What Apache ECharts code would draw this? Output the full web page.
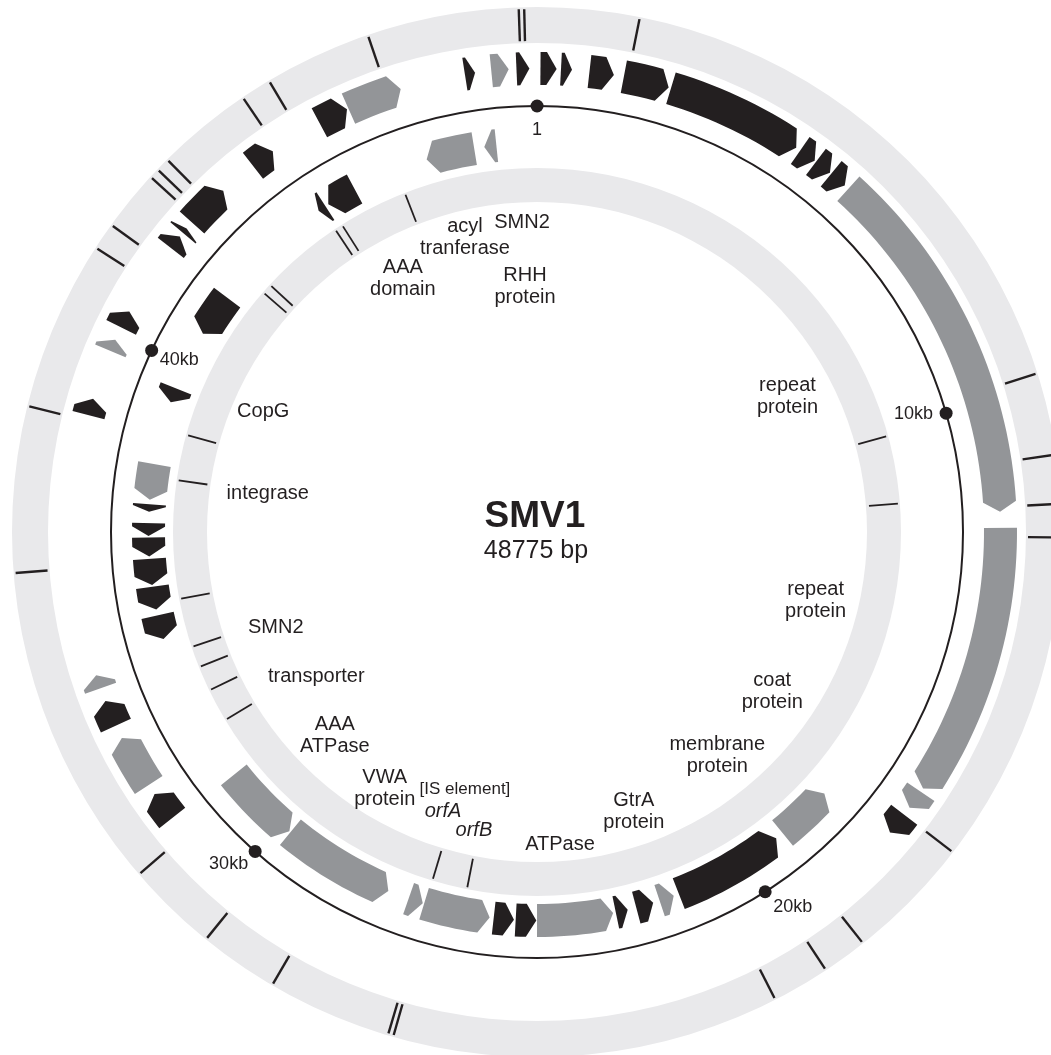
<!DOCTYPE html>
<html><head><meta charset="utf-8">
<script src="https://cdn.jsdelivr.net/npm/echarts@6/dist/echarts.min.js"></script>
<style>html,body{margin:0;padding:0;background:#fff}#main{width:1051px;height:1055px}</style>
</head><body><div id="main"></div>
<script>
// ---------------- data ----------------
const GENOME_LENGTH = 48775;
const genomeName = 'SMV1';
const genomeSizeLabel = '48775 bp';

// ORFs on the forward strand (outer track): [start bp, end bp, class]
const forwardGenes = [
  [58, 329, 'dark'], [402, 587, 'dark'], [881, 1294, 'dark'], [1463, 2236, 'dark'],
  [2276, 4607, 'dark'], [4688, 4986, 'dark'], [5013, 5311, 'dark'], [5338, 5636, 'dark'],
  [5718, 11855, 'gray'], [12126, 16746, 'gray'], [16814, 17139, 'gray'], [17288, 17667, 'dark'],
  [31419, 31920, 'dark'], [32097, 33004, 'gray'], [33235, 33682, 'dark'], [33912, 34142, 'gray'],
  [38559, 38844, 'dark'], [39697, 39901, 'gray'], [40131, 40430, 'dark'], [41703, 41946, 'dark'],
  [42028, 42122, 'dark'], [42258, 43003, 'dark'], [43654, 44067, 'dark'], [44981, 45496, 'dark'],
  [45523, 46458, 'gray'], [47562, 47735, 'dark'], [48008, 48301, 'gray'], [48431, 48648, 'dark']
];

// ORFs on the reverse strand (inner track): [start bp, end bp, class]
const reverseGenes = [
  [17925, 19076, 'gray'], [19239, 21488, 'dark'], [21596, 21895, 'gray'], [22030, 22382, 'dark'],
  [22558, 22802, 'dark'], [22857, 24387, 'gray'], [24401, 24814, 'dark'], [24848, 25255, 'dark'],
  [25336, 26677, 'gray'], [26704, 27002, 'gray'], [27436, 29726, 'gray'], [29753, 31338, 'gray'],
  [34413, 34902, 'dark'], [35023, 35484, 'dark'], [35518, 36046, 'dark'], [36093, 36473, 'dark'],
  [36500, 36757, 'dark'], [36988, 37137, 'dark'], [37225, 37943, 'gray'], [39223, 39521, 'dark'],
  [40741, 41608, 'dark'], [44141, 44304, 'dark'], [44372, 44981, 'dark'], [46539, 47515, 'gray'],
  [47718, 47962, 'gray']
];

// tick marks in the outer and inner grey rings (bp)
const outerTicks = [1531, 9809, 11042, 11774, 12275, 17288, 19185, 19862, 20729, 26542, 26623,
  28493, 29685, 31067, 35972, 38464, 41025, 41432, 42352, 42501, 42705, 44155, 44615, 46228, 48504, 48585];
const innerTicks = [10121, 11584, 25891, 26650, 32368, 33086, 33628, 34088, 35145, 37692, 38681,
  42163, 42380, 44208, 44384, 45889];

// scale marks on the backbone
const scaleMarks = [1, 10000, 20000, 30000, 40000];
const scaleLabels = ['1', '10kb', '20kb', '30kb', '40kb'];

// functional annotations (text, position bp)
const annotationTexts = ['acyl\ntranferase', 'SMN2', 'AAA\ndomain', 'RHH\nprotein', 'repeat\nprotein',
  'repeat\nprotein', 'coat\nprotein', 'membrane\nprotein', 'GtrA\nprotein', 'ATPase', '[IS element]',
  'orfA', 'orfB', 'VWA\nprotein', 'AAA\nATPase', 'transporter', 'SMN2', 'integrase', 'CopG'];
const annotationPositions = [46911, 48400, 45000, 48397, 8332, 14077, 16811, 19116, 21800, 23816, 26508,
  26903, 26005, 28551, 30455, 32073, 33872, 37683, 39792];

// ---------------- layout / style ----------------
const annotationRadii = [303, 310, 287, 246, 285, 287, 284, 287, 296, 313, 267, 295, 305, 298, 287, 264, 278, 272, 299];
const annotationStyle = [{}, {}, {}, {}, {}, {}, {}, {}, {}, {}, {size: 17}, {italic: true}, {italic: true}, {}, {}, {}, {}, {}, {}];
const scaleLabelLayout = [
  {dx: 0, dy: 24, align: 'center'}, {dx: -13, dy: 1, align: 'right'}, {dx: 8, dy: 15, align: 'left'},
  {dx: -7, dy: 13, align: 'right'}, {dx: 8, dy: 10, align: 'left'}
];
const DARK = '#231f20', GRAY = '#939598', RING = '#e9e9eb';
const FONT = '"Liberation Sans", Arial, Helvetica, sans-serif';
const RAD = {outerRing: [489, 525], outerTrack: [447, 480], backbone: 426, innerTrack: [372, 405],
  innerRing: [330, 364], outerTick: [491, 523], innerTick: [333, 362]};
const HEAD_PX = 10;

const chart = echarts.init(document.getElementById('main'), null, {renderer: 'canvas'});

function rpx(api, r) {
  const c = api.coord([0, 0]), p = api.coord([r, 0]);
  return Math.hypot(p[0] - c[0], p[1] - c[1]);
}
function arc(api, r, a0, a1) {
  const span = Math.abs(a1 - a0);
  const n = Math.max(1, Math.ceil(span / GENOME_LENGTH * 360 / 1.2));
  const pts = [];
  for (let i = 0; i <= n; i++) pts.push(api.coord([r, a0 + (a1 - a0) * i / n]));
  return pts;
}
function geneRenderer(track, reverse) {
  return function (params, api) {
    const s = api.value(1), e = api.value(2), cls = api.value(3);
    const r0 = track[0], r1 = track[1], rm = (r0 + r1) / 2;
    const headBp = Math.min(0.75 * (e - s), HEAD_PX / rm * GENOME_LENGTH / (2 * Math.PI));
    let pts;
    if (!reverse) {
      const b = e - headBp;
      pts = arc(api, r1, s, b).concat([api.coord([rm, e])], arc(api, r0, b, s));
    } else {
      const b = s + headBp;
      pts = [api.coord([rm, s])].concat(arc(api, r1, b, e), arc(api, r0, e, b));
    }
    return {type: 'polygon', shape: {points: pts}, style: {fill: cls === 1 ? GRAY : DARK}};
  };
}
function tickRenderer(range, width) {
  return function (params, api) {
    const a = api.value(1);
    const p0 = api.coord([range[0], a]), p1 = api.coord([range[1], a]);
    return {type: 'line', shape: {x1: p0[0], y1: p0[1], x2: p1[0], y2: p1[1]},
      style: {stroke: DARK, lineWidth: width}};
  };
}

const option = {
  animation: false,
  backgroundColor: '#ffffff',
  polar: {center: [537, 532], radius: 525},
  angleAxis: {type: 'value', min: 0, max: GENOME_LENGTH, startAngle: 90, clockwise: true, show: false},
  radiusAxis: {type: 'value', min: 0, max: 525, show: false},
  series: [
    { // rings and backbone
      type: 'custom', coordinateSystem: 'polar', silent: true, z: 1,
      data: [[0, 0]],
      renderItem: function (params, api) {
        const c = api.coord([0, 0]);
        return {type: 'group', children: [
          {type: 'ring', shape: {cx: c[0], cy: c[1], r: rpx(api, RAD.outerRing[1]), r0: rpx(api, RAD.outerRing[0])}, style: {fill: RING}},
          {type: 'ring', shape: {cx: c[0], cy: c[1], r: rpx(api, RAD.innerRing[1]), r0: rpx(api, RAD.innerRing[0])}, style: {fill: RING}},
          {type: 'circle', shape: {cx: c[0], cy: c[1], r: rpx(api, RAD.backbone)}, style: {fill: null, stroke: DARK, lineWidth: 2}}
        ]};
      }
    },
    { type: 'custom', coordinateSystem: 'polar', silent: true, z: 2,
      data: outerTicks.map(t => [RAD.outerTick[0], t]), renderItem: tickRenderer(RAD.outerTick, 2.4) },
    { type: 'custom', coordinateSystem: 'polar', silent: true, z: 2,
      data: innerTicks.map(t => [RAD.innerTick[0], t]), renderItem: tickRenderer(RAD.innerTick, 1.8) },
    { type: 'custom', coordinateSystem: 'polar', silent: true, z: 3,
      data: forwardGenes.map(g => [RAD.outerTrack[0], g[0], g[1], g[2] === 'gray' ? 1 : 0]),
      renderItem: geneRenderer(RAD.outerTrack, false) },
    { type: 'custom', coordinateSystem: 'polar', silent: true, z: 3,
      data: reverseGenes.map(g => [RAD.innerTrack[0], g[0], g[1], g[2] === 'gray' ? 1 : 0]),
      renderItem: geneRenderer(RAD.innerTrack, true) },
    { // scale marks
      type: 'custom', coordinateSystem: 'polar', silent: true, z: 4,
      data: scaleMarks.map((m, i) => [RAD.backbone, m, i]),
      renderItem: function (params, api) {
        const i = api.value(2);
        const p = api.coord([RAD.backbone, api.value(1)]);
        const o = scaleLabelLayout[i];
        return {type: 'group', children: [
          {type: 'circle', shape: {cx: p[0], cy: p[1], r: 6.5}, style: {fill: DARK}},
          {type: 'text', x: p[0] + o.dx, y: p[1] + o.dy,
            style: {text: scaleLabels[i], fill: DARK, fontSize: 18, fontFamily: FONT,
              align: o.align, verticalAlign: 'middle'}}
        ]};
      }
    },
    { // annotations
      type: 'custom', coordinateSystem: 'polar', silent: true, z: 4,
      data: annotationPositions.map((a, i) => [annotationRadii[i], a, i]),
      renderItem: function (params, api) {
        const i = api.value(2);
        const p = api.coord([api.value(0), api.value(1)]);
        const st = annotationStyle[i];
        return {type: 'text', x: p[0], y: p[1],
          style: {text: annotationTexts[i], fill: DARK, fontSize: st.size || 20, fontFamily: FONT,
            fontStyle: st.italic ? 'italic' : 'normal', lineHeight: 22,
            align: 'center', verticalAlign: 'middle'}};
      }
    }
  ],
  graphic: [
    {type: 'text', x: 535, y: 517, silent: true,
      style: {text: genomeName, fill: DARK, fontSize: 37, fontWeight: 'bold', fontFamily: FONT,
        align: 'center', verticalAlign: 'middle'}},
    {type: 'text', x: 536, y: 551, silent: true,
      style: {text: genomeSizeLabel, fill: DARK, fontSize: 25, fontFamily: FONT,
        align: 'center', verticalAlign: 'middle'}}
  ]
};
chart.setOption(option);
</script>
</body></html>
